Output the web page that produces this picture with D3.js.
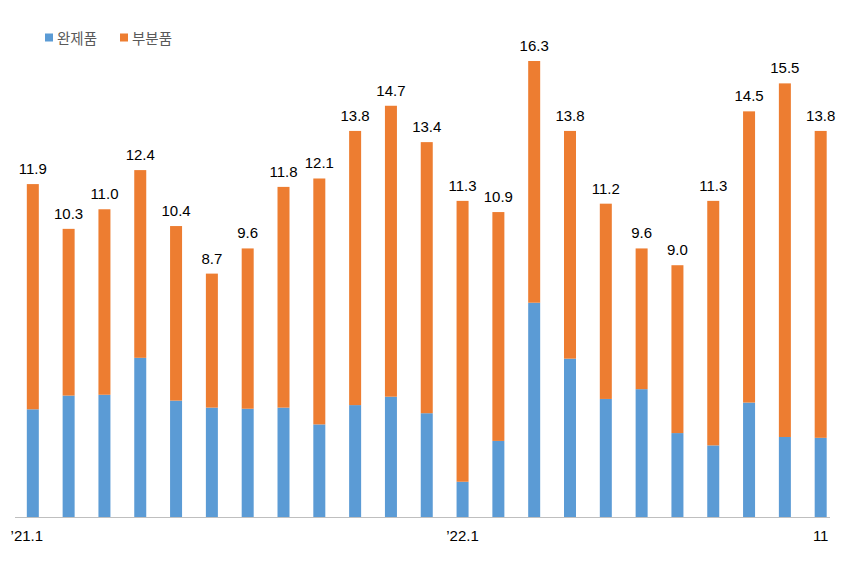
<!DOCTYPE html>
<html><head><meta charset="utf-8">
<script src="https://cdn.jsdelivr.net/npm/d3@7"></script>
<style>html,body{margin:0;padding:0;background:#fff;}</style>
</head><body>
<svg id="chart" width="854" height="568"></svg>
<script>
const months = ["’21.1","2","3","4","5","6","7","8","9","10","11","12","’22.1","2","3","4","5","6","7","8","9","10","11"];
const tickLabels = {0:"’21.1", 12:"’22.1", 22:"11"};
const seriesNames = ["완제품","부분품"];
const finished = [3.85,4.34,4.37,5.69,4.16,3.91,3.87,3.91,3.31,4.00,4.30,3.71,1.26,2.72,7.66,5.66,4.22,4.57,3.00,2.56,4.09,2.86,2.83];
const parts    = [8.05,5.96,6.63,6.71,6.24,4.79,5.73,7.89,8.79,9.80,10.40,9.69,10.04,8.18,8.64,8.14,6.98,5.03,6.00,8.74,10.41,12.64,10.97];
const totals   = [11.9,10.3,11.0,12.4,10.4,8.7,9.6,11.8,12.1,13.8,14.7,13.4,11.3,10.9,16.3,13.8,11.2,9.6,9.0,11.3,14.5,15.5,13.8];
const colors = ["#5B9BD5","#ED7D31"];

const svg = d3.select("#chart");
const font = "'Liberation Sans', Arial, 'Noto Sans CJK KR', sans-serif";
const baseY = 517, topY = 61;
const x = d3.scaleBand().domain(d3.range(months.length)).range([15, 838.5]).paddingInner(0.665).paddingOuter(0.33);
const y = d3.scaleLinear().domain([0, 16.3]).range([baseY, topY]);

const table = months.map((m,i)=>({i, finished:finished[i], parts:parts[i]}));
const stack = d3.stack().keys(["finished","parts"])(table);

svg.append("g").selectAll("g").data(stack).join("g")
  .attr("fill",(d,k)=>colors[k])
  .selectAll("rect").data(d=>d).join("rect")
  .attr("x",d=>x(d.data.i))
  .attr("width",x.bandwidth())
  .attr("y",d=>y(d[1]))
  .attr("height",d=>y(d[0])-y(d[1]));

// axis line
svg.append("line").attr("x1",15).attr("x2",830).attr("y1",baseY+0.5).attr("y2",baseY+0.5)
  .attr("stroke","#BFBFBF").attr("stroke-width",1);

// total labels
svg.append("g").selectAll("text").data(totals).join("text")
  .attr("x",(d,i)=>x(i)+x.bandwidth()/2)
  .attr("y",(d,i)=>y(finished[i]+parts[i])-10)
  .attr("text-anchor","middle")
  .attr("font-family",font).attr("font-size",15).attr("fill","#000")
  .text(d=>d.toFixed(1));

// x tick labels
svg.append("g").selectAll("text").data(Object.entries(tickLabels)).join("text")
  .attr("x",d=>x(+d[0])+x.bandwidth()/2 - (+d[0]===0?6:0))
  .attr("y",541)
  .attr("text-anchor","middle")
  .attr("font-family",font).attr("font-size",15).attr("fill","#000")
  .text(d=>d[1]);

// legend
const leg = svg.append("g");
const legX = [45,120];
seriesNames.forEach((n,k)=>{
  leg.append("rect").attr("x",legX[k]).attr("y",33.5).attr("width",8).attr("height",8).attr("fill",colors[k]);
  leg.append("text").attr("x",legX[k]+12).attr("y",43.5)
    .attr("font-family","'Noto Sans CJK KR', sans-serif").attr("font-size",14.5).attr("fill","#595959").text(n);
});
</script>
</body></html>
